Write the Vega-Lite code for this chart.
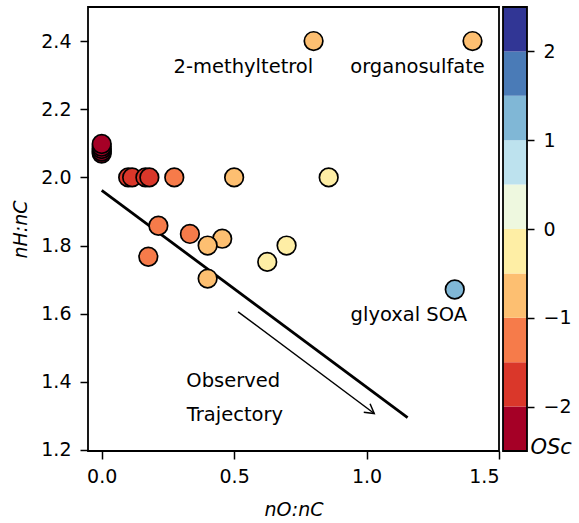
{
  "$schema": "https://vega.github.io/schema/vega-lite/v6.json",
  "autosize": {"type": "none"},
  "padding": {"left": 88, "top": 7, "right": 491, "bottom": 516},
  "background": "white",
  "config": {
    "font": "DejaVu Sans",
    "view": {"stroke": "black", "strokeWidth": 1.8},
    "axis": {
      "grid": false, "domain": false, "tickColor": "black", "tickWidth": 1.5, "tickSize": 8,
      "labelColor": "black", "labelFontSize": 19, "labelFont": "DejaVu Sans",
      "titleFont": "DejaVu Sans", "titleColor": "black", "titleFontSize": 19,
      "titleFontWeight": "normal", "titleFontStyle": "italic"
    }
  },
  "spacing": 4,
  "bounds": "flush",
  "datasets": {
    "points": [
      {"x": 0, "y": 2.07, "OSc": -2.07},
      {"x": 0, "y": 2.076, "OSc": -2.08},
      {"x": 0, "y": 2.083, "OSc": -2.08},
      {"x": 0, "y": 2.09, "OSc": -2.09},
      {"x": 0, "y": 2.098, "OSc": -2.1},
      {"x": 0.1, "y": 2.0, "OSc": -1.8},
      {"x": 0.115, "y": 2.0, "OSc": -1.77},
      {"x": 0.165, "y": 2.0, "OSc": -1.67},
      {"x": 0.18, "y": 2.0, "OSc": -1.64},
      {"x": 0.274, "y": 2.0, "OSc": -1.45},
      {"x": 0.5, "y": 2.0, "OSc": -1.0},
      {"x": 0.857, "y": 2.0, "OSc": -0.29},
      {"x": 0.8, "y": 2.4, "OSc": -0.8},
      {"x": 1.4, "y": 2.4, "OSc": -0.7},
      {"x": 0.214, "y": 1.858, "OSc": -1.43},
      {"x": 0.333, "y": 1.834, "OSc": -1.17},
      {"x": 0.455, "y": 1.82, "OSc": -0.91},
      {"x": 0.4, "y": 1.8, "OSc": -1.0},
      {"x": 0.176, "y": 1.767, "OSc": -1.41},
      {"x": 0.4, "y": 1.703, "OSc": -0.9},
      {"x": 0.698, "y": 1.8, "OSc": -0.4},
      {"x": 0.625, "y": 1.752, "OSc": -0.48},
      {"x": 1.333, "y": 1.671, "OSc": 1.0}
    ],
    "lines": [
      {"seg": "main", "i": 0, "x": 0, "y": 1.962},
      {"seg": "main", "i": 1, "x": 1.155, "y": 1.295},
      {"seg": "shaft", "i": 0, "x": 0.515, "y": 1.6055},
      {"seg": "shaft", "i": 1, "x": 1.029, "y": 1.307},
      {"seg": "head", "i": 0, "x": 0.9894, "y": 1.3109},
      {"seg": "head", "i": 1, "x": 1.029, "y": 1.307},
      {"seg": "head", "i": 2, "x": 1.0132, "y": 1.3356}
    ],
    "labels": [
      {"x": 0.535, "y": 2.306, "text": "2-methyltetrol"},
      {"x": 1.1925, "y": 2.306, "text": "organosulfate"},
      {"x": 1.1596, "y": 1.578, "text": "glyoxal SOA"},
      {"x": 0.4966, "y": 1.3856, "text": "Observed"},
      {"x": 0.503, "y": 1.2848, "text": "Trajectory"}
    ],
    "bins": [
      {"lo": -2.5, "hi": -2.0},
      {"lo": -2.0, "hi": -1.5},
      {"lo": -1.5, "hi": -1.0},
      {"lo": -1.0, "hi": -0.5},
      {"lo": -0.5, "hi": 0.0},
      {"lo": 0.0, "hi": 0.5},
      {"lo": 0.5, "hi": 1.0},
      {"lo": 1.0, "hi": 1.5},
      {"lo": 1.5, "hi": 2.0},
      {"lo": 2.0, "hi": 2.5}
    ]
  },
  "resolve": {"scale": {"color": "shared", "x": "independent", "y": "independent"}},
  "hconcat": [
    {
      "width": 411,
      "height": 444,
      "layer": [
        {
          "data": {"name": "lines"},
          "transform": [{"filter": "datum.seg === 'main'"}],
          "mark": {"type": "line", "color": "black", "strokeWidth": 2.8, "strokeCap": "butt"},
          "encoding": {
            "x": {
              "field": "x", "type": "quantitative",
              "scale": {"domain": [-0.0517, 1.5], "nice": false, "zero": false},
              "axis": {"values": [0, 0.5, 1, 1.5], "format": ".1f", "labelPadding": 8, "title": "nO:nC", "titlePadding": 14}
            },
            "y": {
              "field": "y", "type": "quantitative",
              "scale": {"domain": [1.197, 2.5], "nice": false, "zero": false},
              "axis": {"values": [1.2, 1.4, 1.6, 1.8, 2.0, 2.2, 2.4], "format": ".1f", "labelPadding": 9, "title": "nH:nC", "titlePadding": 10}
            },
            "order": {"field": "i"}
          }
        },
        {
          "data": {"name": "lines"},
          "transform": [{"filter": "datum.seg !== 'main'"}],
          "mark": {"type": "line", "color": "black", "strokeWidth": 1.5, "strokeCap": "butt", "strokeJoin": "miter"},
          "encoding": {
            "x": {"field": "x", "type": "quantitative"},
            "y": {"field": "y", "type": "quantitative"},
            "detail": {"field": "seg"},
            "order": {"field": "i"}
          }
        },
        {
          "data": {"name": "points"},
          "mark": {"type": "circle", "size": 346, "opacity": 1, "stroke": "black", "strokeWidth": 1.7},
          "encoding": {
            "x": {"field": "x", "type": "quantitative"},
            "y": {"field": "y", "type": "quantitative"},
            "color": {
              "field": "OSc", "type": "quantitative",
              "scale": {
                "type": "threshold",
                "domain": [-2, -1.5, -1, -0.5, 0, 0.5, 1, 1.5, 2],
                "range": ["#a50026", "#da372a", "#f67b4a", "#fdbf71", "#feeea5", "#eef8df", "#bde2ee", "#80b7d6", "#4a7bb7", "#313695"]
              },
              "legend": null
            }
          }
        },
        {
          "data": {"name": "labels"},
          "mark": {"type": "text", "fontSize": 19.5, "align": "center", "baseline": "alphabetic", "color": "black", "font": "DejaVu Sans"},
          "encoding": {
            "x": {"field": "x", "type": "quantitative"},
            "y": {"field": "y", "type": "quantitative"},
            "text": {"field": "text"}
          }
        }
      ]
    },
    {
      "width": 24,
      "height": 444,
      "view": {"stroke": null},
      "layer": [
        {
          "data": {"name": "bins"},
          "mark": {"type": "rect"},
          "encoding": {
            "x": {"datum": 0, "type": "quantitative", "scale": {"domain": [0, 1], "nice": false, "zero": false}, "axis": null},
            "x2": {"datum": 1},
            "y": {
              "field": "lo", "type": "quantitative",
              "scale": {"domain": [-2.5, 2.5], "nice": false, "zero": false},
              "axis": {
                "orient": "right", "values": [-2, -1, 0, 1, 2], "format": "d",
                "labelExpr": "replace(datum.label, '-', '−')",
                "tickSize": 7, "labelPadding": 9,
                "title": "OSc", "titleAngle": 0, "titleAlign": "left", "titleBaseline": "alphabetic",
                "titleX": 3, "titleY": 446, "titleFontSize": 21
              }
            },
            "y2": {"field": "hi"},
            "color": {
              "field": "lo", "type": "quantitative",
              "scale": {
                "type": "threshold",
                "domain": [-2, -1.5, -1, -0.5, 0, 0.5, 1, 1.5, 2],
                "range": ["#a50026", "#da372a", "#f67b4a", "#fdbf71", "#feeea5", "#eef8df", "#bde2ee", "#80b7d6", "#4a7bb7", "#313695"]
              },
              "legend": null
            }
          }
        },
        {
          "data": {"values": [{}]},
          "mark": {"type": "rect", "filled": false, "stroke": "black", "strokeWidth": 1.8},
          "encoding": {
            "x": {"datum": 0, "type": "quantitative"},
            "x2": {"datum": 1},
            "y": {"datum": -2.5, "type": "quantitative"},
            "y2": {"datum": 2.5}
          }
        }
      ]
    }
  ]
}
